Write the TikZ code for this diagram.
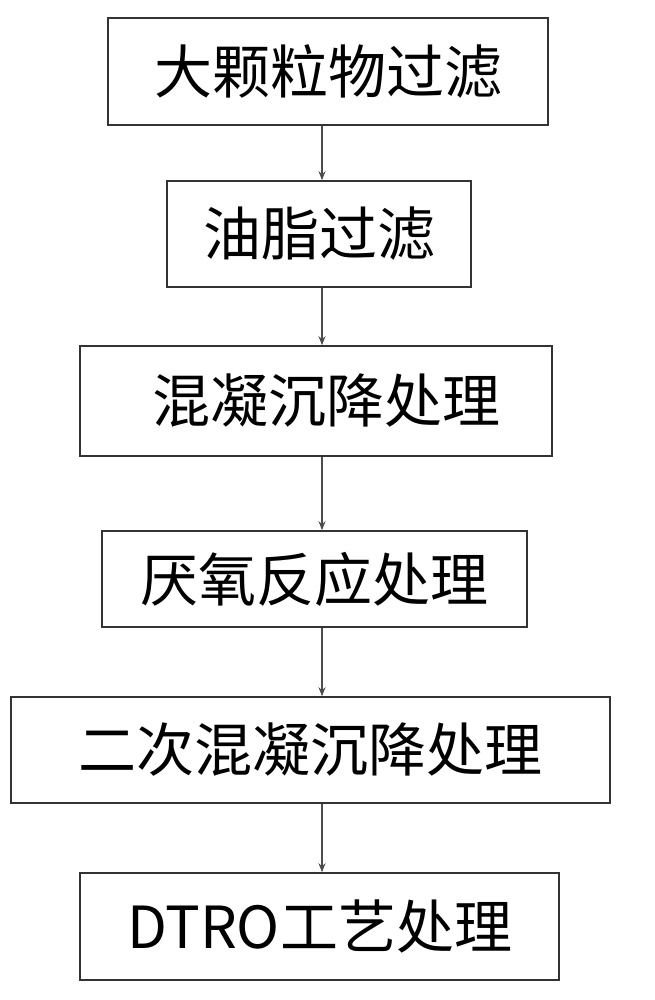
\documentclass[tikz,border=0pt]{standalone}
\usepackage{fontspec}
\newfontfamily\cjk{Noto Sans CJK SC}
\usetikzlibrary{arrows.meta}
\begin{document}
\begin{tikzpicture}[x=1pt, y=-1pt, stepbox/.style={draw=black!80, line width=1.6pt, inner sep=0pt, font=\cjk\fontsize{58}{62}\selectfont}, flow/.style={draw=black!70, line width=1.2pt, -{Stealth[length=9pt,width=7pt]}}]
	\useasboundingbox (0,0) rectangle (655,1000);

	\node[stepbox, minimum width=440pt, minimum height=107pt] (s1) at (328,71.5) {大颗粒物过滤};
	\node[stepbox, minimum width=304pt, minimum height=106pt] (s2) at (319,234) {油脂过滤};
	\node[stepbox, minimum width=472pt, minimum height=110pt] (s3) at (316,401) {\hspace{20pt}混凝沉降处理};
	\node[stepbox, minimum width=425pt, minimum height=96pt] (s4) at (314.5,579) {厌氧反应处理};
	\node[stepbox, minimum width=599pt, minimum height=106pt] (s5) at (310.5,750) {二次混凝沉降处理};
	\node[stepbox, minimum width=479pt, minimum height=107pt] (s6) at (319.5,926.5) {DTRO工艺处理};

	\draw[flow] (s1.south -| 322,0) -- (s2.north -| 322,0);
	\draw[flow] (s2.south -| 322,0) -- (s3.north -| 322,0);
	\draw[flow] (s3.south -| 322,0) -- (s4.north -| 322,0);
	\draw[flow] (s4.south -| 322,0) -- (s5.north -| 322,0);
	\draw[flow] (s5.south -| 322,0) -- (s6.north -| 322,0);
\end{tikzpicture}
\end{document}
